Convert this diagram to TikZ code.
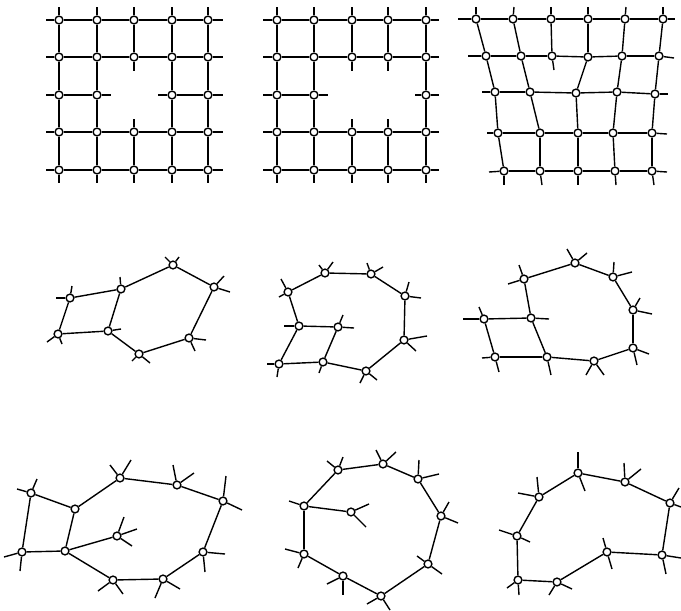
\documentclass[tikz,border=0pt]{standalone}
\usepackage{xcolor}
\usepackage{tikz}

\tikzset{
    junction/.style={circle, draw=black, fill=white, line width=0.7pt, inner sep=0pt, minimum size=3.9pt},
    bar/.style={draw=black, line width=0.7pt}
}
\newcommand{\junctions}[1]{\foreach \name/\x/\y in {#1} {\node[junction] (\name) at (\x,\y) {};}}
\newcommand{\links}[1]{\foreach \from/\to in {#1} {\path[bar] (\from) -- (\to);}}
\newcommand{\ticks}[1]{\foreach \from/\x/\y [count=\i] in {#1} {
    \coordinate (\from-end-\i) at (\x,\y);
    \path[bar] (\from) -- (\from-end-\i);}}

\begin{document}
\begin{tikzpicture}[x=0.5pt, y=-0.5pt]
    \useasboundingbox (0,0) rectangle (681,611);

    % top row: grids
    \junctions{a11/59/20,a12/97/20,a13/134/20,a14/172/20,a15/208/20,
        a21/59/57,a22/97/57,a23/134/57,a24/172/57,a25/208/57,
        a31/59/95,a32/97/95,a34/172/95,a35/208/95,
        a41/59/132,a42/97/132,a43/134/132,a44/172/132,a45/208/132,
        a51/59/170,a52/97/170,a53/134/170,a54/172/170,a55/208/170}
    \foreach \r in {1,2,4,5} \foreach \c/\d in {1/2,2/3,3/4,4/5} {\path[bar] (a\r\c) -- (a\r\d);}
    \foreach \c in {1,2,4,5} \foreach \r/\s in {1/2,2/3,3/4,4/5} {\path[bar] (a\r\c) -- (a\s\c);}
    \links{a31/a32,a34/a35,a13/a23,a43/a53}
    \ticks{a11/59/7,a12/97/7,a13/134/7,a14/172/7,a15/208/7,
        a51/59/183,a52/97/183,a53/134/183,a54/172/183,a55/208/183,
        a11/46/20,a21/46/57,a31/46/95,a41/46/132,a51/46/170,
        a15/223/20,a25/223/57,a35/223/95,a45/223/132,a55/223/170,
        a23/134/71,a43/134/119,a32/111/95,a34/158/95}

    \junctions{b11/277/20,b12/314/20,b13/352/20,b14/388/20,b15/426/20,
        b21/277/57,b22/314/57,b23/352/57,b24/388/57,b25/426/57,
        b31/277/95,b32/314/95,b35/426/95,
        b41/277/132,b42/314/132,b43/352/132,b44/388/132,b45/426/132,
        b51/277/170,b52/314/170,b53/352/170,b54/388/170,b55/426/170}
    \foreach \r in {1,2,4,5} \foreach \c/\d in {1/2,2/3,3/4,4/5} {\path[bar] (b\r\c) -- (b\r\d);}
    \foreach \c in {1,2,5} \foreach \r/\s in {1/2,2/3,3/4,4/5} {\path[bar] (b\r\c) -- (b\s\c);}
    \links{b31/b32,b13/b23,b14/b24,b43/b53,b44/b54}
    \ticks{b11/277/7,b12/314/7,b13/352/7,b14/388/7,b15/426/7,
        b51/277/183,b52/314/183,b53/352/183,b54/388/183,b55/426/183,
        b11/263/20,b21/263/57,b31/263/95,b41/263/132,b51/263/170,
        b15/439/20,b25/439/57,b35/439/95,b45/439/132,b55/439/170,
        b23/352/71,b24/388/71,b43/352/119,b44/388/119,b32/328/95,b35/415/95}

    \junctions{c11/476/19,c12/513/19,c13/551/19,c14/588/19,c15/625/19,c16/663/19,
        c21/486/56,c22/521/56,c23/552/56,c24/588/57,c25/622/56,c26/659/56,
        c31/495/92,c32/530/92,c33/576/93,c34/617/92,c35/655/94,
        c41/498/133,c42/540/133,c43/578/133,c44/613/133,c45/652/133,
        c51/504/171,c52/540/171,c53/578/171,c54/615/171,c55/652/171}
    \foreach \r in {1,2} \foreach \c/\d in {1/2,2/3,3/4,4/5,5/6} {\path[bar] (c\r\c) -- (c\r\d);}
    \foreach \r in {3,4,5} \foreach \c/\d in {1/2,2/3,3/4,4/5} {\path[bar] (c\r\c) -- (c\r\d);}
    \foreach \c in {1,...,6} {\path[bar] (c1\c) -- (c2\c);}
    \foreach \c in {1,...,5} {\path[bar] (c3\c) -- (c4\c); \path[bar] (c4\c) -- (c5\c);}
    \links{c21/c31,c22/c32,c24/c33,c25/c34,c26/c35}
    \ticks{c11/476/7,c12/514/7,c13/551/7,c14/588/7,c15/626/7,c16/663/7,
        c11/458/19,c21/468/56,c31/482/92,c41/487/133,c51/489/172,
        c16/675/19,c26/674/58,c35/668/94,c45/667/134,c55/667/172,
        c51/504/185,c52/542/185,c53/578/185,c54/616/185,c55/654/185,
        c23/554/70}

    % middle row
    \junctions{d1/70/298,d2/121/289,d3/173/265,d4/214/287,d5/189/338,d6/139/354,d7/108/331,d8/58/334}
    \links{d1/d2,d2/d3,d3/d4,d4/d5,d5/d6,d6/d7,d7/d8,d8/d1,d2/d7}
    \ticks{d1/72/286,d1/56/298,d2/120/277,d3/165/257,d3/179/257,d4/224/276,d4/230/292,
        d5/206/340,d5/195/351,d6/132/361,d6/150/363,d7/121/329,d8/47/342,d8/62/344}

    \junctions{e1/288/292,e2/325/273,e3/371/274,e4/405/296,e5/404/340,e6/366/371,e7/323/362,e8/279/364,e9/299/326,e10/338/327}
    \links{e1/e2,e2/e3,e3/e4,e4/e5,e5/e6,e6/e7,e7/e8,e8/e9,e9/e1,e9/e10,e10/e7}
    \ticks{e1/281/279,e1/279/297,e2/319/265,e2/333/262,e3/367/263,e3/383/267,e4/409/282,e4/421/298,
        e5/427/336,e5/416/351,e6/360/383,e6/377/380,e7/319/373,e8/267/364,e8/277/377,
        e9/284/326,e10/343/315,e10/354/328}

    \junctions{f1/524/279,f2/575/263,f3/613/277,f4/633/310,f5/633/348,f6/594/361,f7/547/357,f8/495/357,f9/484/319,f10/531/318}
    \links{f1/f2,f2/f3,f3/f4,f4/f5,f5/f6,f6/f7,f7/f8,f8/f9,f9/f10,f10/f1,f10/f7}
    \ticks{f1/519/265,f1/508/284,f2/567/249,f2/587/253,f3/614/262,f3/632/272,f4/640/298,f4/652/314,
        f5/649/354,f5/637/365,f6/586/375,f6/604/375,f7/551/375,f8/482/358,f8/499/372,
        f9/463/319,f9/479/307,f10/549/319}

    % bottom row
    \junctions{g1/31/493,g2/75/509,g3/120/478,g4/177/485,g5/223/501,g6/203/552,g7/163/579,g8/113/580,g9/65/551,g10/22/552,g11/117/536}
    \links{g1/g2,g2/g3,g3/g4,g4/g5,g5/g6,g6/g7,g7/g8,g8/g9,g9/g10,g10/g1,g2/g9,g9/g11}
    \ticks{g1/17/489,g1/37/479,g3/110/465,g3/131/460,g4/173/465,g4/194/473,g5/226/476,g5/242/510,
        g6/225/554,g6/205/572,g7/155/598,g7/180/589,g8/98/591,g8/123/594,g10/4/557,g10/20/571,
        g11/124/517,g11/137/529,g11/132/546}

    \junctions{h1/338/470,h2/383/464,h3/418/479,h4/441/516,h5/428/564,h6/381/596,h7/343/576,h8/304/554,h9/304/506,h10/351/512}
    \links{h1/h2,h2/h3,h3/h4,h4/h5,h5/h6,h6/h7,h7/h8,h8/h9,h9/h1,h9/h10}
    \ticks{h1/327/461,h1/343/457,h2/376/450,h2/396/452,h3/419/460,h3/439/474,h4/449/502,h4/458/523,
        h5/417/556,h5/442/574,h6/367/604,h6/390/610,h7/327/584,h7/343/595,h8/285/549,h8/298/568,
        h9/289/501,h10/369/504,h10/366/527}

    \junctions{i1/539/497,i2/578/473,i3/625/482,i4/670/503,i5/662/555,i6/607/552,i7/557/582,i8/518/580,i9/517/536}
    \links{i1/i2,i2/i3,i3/i4,i4/i5,i5/i6,i6/i7,i7/i8,i8/i9,i9/i1}
    \ticks{i1/537/477,i1/518/493,i2/578/452,i2/585/491,i3/624/463,i3/641/469,i4/679/488,i4/681/507,
        i5/681/558,i5/666/574,i6/603/538,i6/612/569,i7/549/595,i7/572/589,i8/507/588,i8/519/595,
        i9/499/530,i9/530/542}
\end{tikzpicture}
\end{document}
